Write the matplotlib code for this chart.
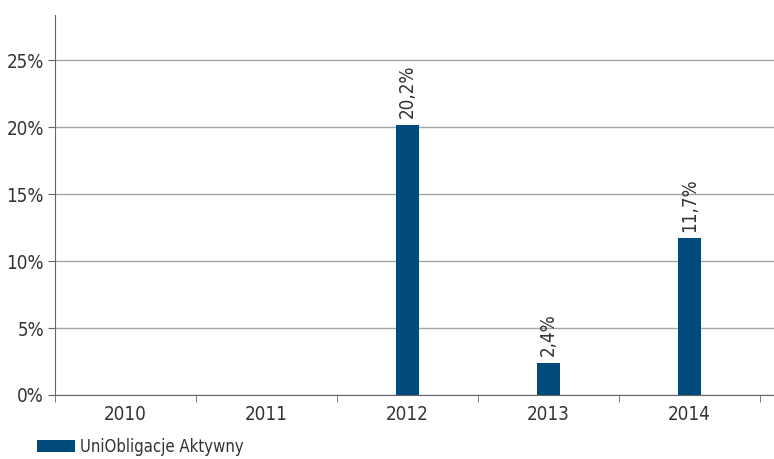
import numpy as np
import matplotlib
matplotlib.use("Agg")
import matplotlib.pyplot as plt
from matplotlib.ticker import FuncFormatter, FixedLocator

years = ["2010", "2011", "2012", "2013", "2014"]
values = [None, None, 20.2, 2.4, 11.7]
labels = ["", "", "20,2%", "2,4%", "11,7%"]
series_name = "UniObligacje Aktywny"

plt.rcParams['font.family'] = ['DejaVu Sans']
plt.rcParams['font.stretch'] = 'condensed'

bar_color = "#004a7c"
text_color = "#333333"
fs = 13.5

fig = plt.figure(figsize=(7.74, 4.59), dpi=100)
ax = fig.add_axes([55 / 774, 1 - 395 / 459, 1 - 55 / 774, (395 - 15) / 459])

x = np.arange(len(years))
for i, v in enumerate(values):
    if v is None:
        continue
    ax.bar(x[i], v, width=0.16, color=bar_color, zorder=3,
           label=series_name if i == 2 else None)
    ax.text(x[i], v + 0.5, labels[i], rotation=90, ha="center", va="bottom",
            fontsize=fs, color=text_color)

ax.set_xlim(-0.5, 4.6)
ax.set_ylim(0, 28.4)
ax.set_yticks([0, 5, 10, 15, 20, 25])
ax.yaxis.set_major_formatter(FuncFormatter(lambda v, p: f"{v:.0f}%"))
ax.yaxis.grid(True, color="#a6a6a6", linewidth=1, zorder=0)

# etykiety lat na środku, kreski na granicach kategorii
ax.set_xticks(x)
ax.set_xticklabels(years)
ax.tick_params(axis="x", which="major", length=0, pad=7, labelsize=fs, colors=text_color)
ax.xaxis.set_minor_locator(FixedLocator(np.arange(-0.5, 5, 1)))
ax.tick_params(axis="x", which="minor", length=5, color="#666666", direction="out")
ax.tick_params(axis="y", length=5, color="#666666", labelsize=fs, colors=text_color, pad=3)

for s in ["top", "right"]:
    ax.spines[s].set_visible(False)
ax.spines["left"].set_color("#666666")
ax.spines["bottom"].set_color("#666666")

leg = fig.legend(loc="center left", bbox_to_anchor=(37 / 774, 1 - 447 / 459), frameon=False,
                 fontsize=12, handlelength=2.3, handleheight=0.7, handletextpad=0.3,
                 borderpad=0, borderaxespad=0, labelcolor=text_color)

fig.savefig("out.png", dpi=100)
